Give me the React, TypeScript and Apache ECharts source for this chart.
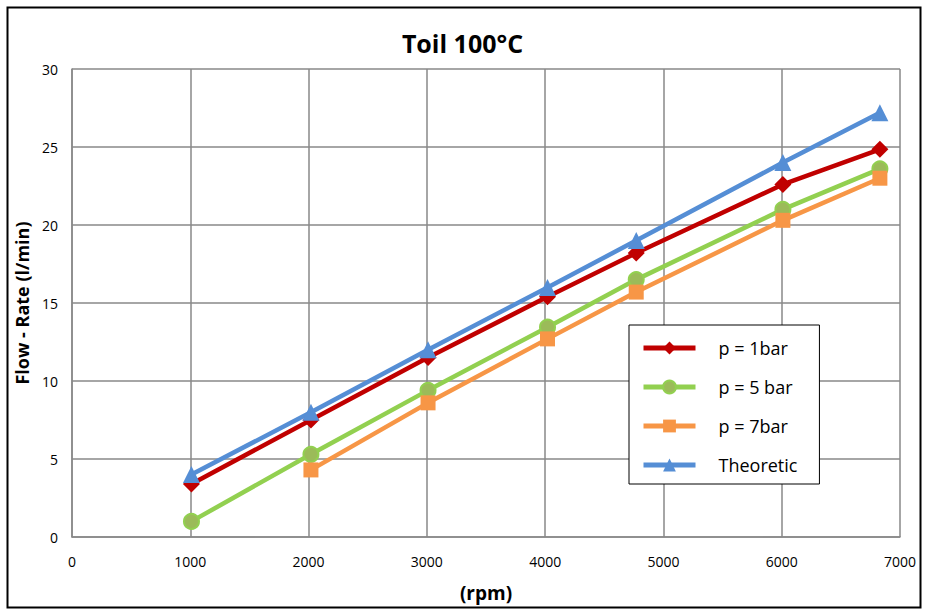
import React, { useEffect, useRef } from "react";
import * as echarts from "echarts";

const rpm = [1010, 2020, 3010, 4020, 4770, 6010, 6830];
const p1bar = [3.4, 7.5, 11.5, 15.4, 18.2, 22.6, 24.85];
const p5bar = [1.0, 5.3, 9.4, 13.45, 16.5, 21.0, 23.6];
const p7bar = [null, 4.3, 8.6, 12.7, 15.7, 20.3, 23.0];
const theoretic = [4.0, 8.0, 12.0, 16.0, 19.0, 24.0, 27.2];

const FONT = "'Open Sans', sans-serif";

const pairs = (vals: (number | null)[]) =>
  rpm.map((x, i) => (vals[i] == null ? null : [x, vals[i]])).filter((d) => d !== null);

export default function App() {
  const ref = useRef<HTMLDivElement>(null);
  useEffect(() => {
    if (!ref.current) return;
    const chart = echarts.init(ref.current, undefined, { renderer: "svg" });
    const mk = (name: string, vals: (number | null)[], color: string, symbol: string, size: number, fill?: string) => ({
      name,
      type: "line",
      data: pairs(vals),
      symbol,
      symbolSize: size,
      lineStyle: { color, width: 4.5 },
      itemStyle: { color: fill || color, borderColor: color, borderWidth: fill ? 2 : 0 },
      emphasis: { disabled: true },
    });
    chart.setOption({
      animation: false,
      graphic: [
        {
          type: "rect",
          shape: { x: 0, y: 0, width: 913, height: 600 },
          left: 5,
          top: 5,
          style: { fill: "none", stroke: "#000", lineWidth: 2 },
          silent: true,
        },
      ],
      title: {
        text: "Toil 100°C",
        left: "center",
        top: 25,
        textStyle: { fontFamily: FONT, fontSize: 25, fontWeight: "bold", color: "#000" },
      },
      grid: { left: 72, right: 25, top: 69, bottom: 72, containLabel: false },
      legend: {
        orient: "vertical",
        left: 629,
        top: 325,
        padding: [14, 22, 10, 12],
        itemGap: 21,
        itemWidth: 52,
        itemHeight: 16,
        backgroundColor: "#fff",
        borderColor: "#000",
        borderWidth: 1,
        lineStyle: { width: 5 },
        textStyle: { fontFamily: FONT, fontSize: 18, color: "#000", padding: [0, 0, 0, 18] },
        data: ["p = 1bar", "p = 5 bar", "p = 7bar", "Theoretic"],
      },
      xAxis: {
        type: "value",
        min: 0,
        max: 7000,
        interval: 1000,
        name: "(rpm)",
        nameLocation: "middle",
        nameGap: 46,
        nameTextStyle: { fontFamily: FONT, fontSize: 19, fontWeight: "bold", color: "#000" },
        axisLine: { show: true, lineStyle: { color: "#888", width: 1.5 } },
        axisTick: { show: false },
        axisLabel: { fontFamily: FONT, fontSize: 14, color: "#000", margin: 17, formatter: (v: number) => String(v) },
        splitLine: { show: true, lineStyle: { color: "#888", width: 1.5 } },
      },
      yAxis: {
        type: "value",
        min: 0,
        max: 30,
        interval: 5,
        name: "Flow - Rate (l/min)",
        nameLocation: "middle",
        nameGap: 40,
        nameTextStyle: { fontFamily: FONT, fontSize: 18, fontWeight: "bold", color: "#000" },
        axisLine: { show: true, lineStyle: { color: "#888", width: 1.5 } },
        axisTick: { show: false },
        axisLabel: { fontFamily: FONT, fontSize: 14, color: "#000", margin: 14 },
        splitLine: { show: true, lineStyle: { color: "#888", width: 1.5 } },
      },
      series: [
        mk("p = 1bar", p1bar, "#C00000", "diamond", 17),
        mk("p = 5 bar", p5bar, "#92D050", "circle", 15, "#9BBB59"),
        mk("p = 7bar", p7bar, "#F79646", "rect", 15),
        mk("Theoretic", theoretic, "#558ED5", "triangle", 17),
      ],
    });
    return () => chart.dispose();
  }, []);
  return <div ref={ref} style={{ width: 925, height: 609, position: "absolute", left: 0, top: 0 }} />;
}
